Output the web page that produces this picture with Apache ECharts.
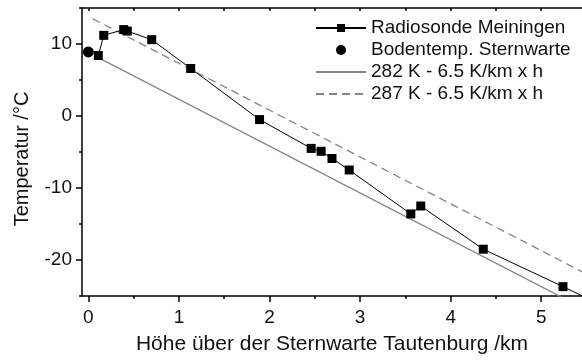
<!DOCTYPE html>
<html>
<head>
<meta charset="utf-8">
<script src="https://cdn.jsdelivr.net/npm/echarts@6/dist/echarts.min.js"></script>
<style>
  html, body { margin: 0; padding: 0; background: #fff; }
  #chart { width: 582px; height: 360px; }
</style>
</head>
<body>
<div id="chart"></div>
<script>
// Radiosonde ascent (Meiningen): height above the observatory in km, temperature in °C
const sondeHeightKm = [0.11, 0.17, 0.39, 0.43, 0.70, 1.13, 1.89, 2.46, 2.57, 2.69, 2.88, 3.56, 3.67, 4.36, 5.24, 5.62];
const sondeTempC    = [8.4, 11.2, 12.0, 11.8, 10.6, 6.6, -0.5, -4.5, -4.9, -5.9, -7.5, -13.6, -12.5, -18.5, -23.7, -26.0];

// Ground temperature at the observatory
const groundHeightKm = [0.0];
const groundTempC    = [8.9];

// Reference lapse-rate lines (6.5 K/km), end points
const lapse282HeightKm = [0.11, 5.6];
const lapse282TempC    = [8.1, -27.6];
const lapse287HeightKm = [0.05, 5.6];
const lapse287TempC    = [13.5, -22.6];

// Axis ticks
const xMajorTicks = [0, 1, 2, 3, 4, 5];
const xMinorTicks = [0.5, 1.5, 2.5, 3.5, 4.5];
const xTopTicks   = [0, 0.5, 1, 1.5, 2, 2.5, 3, 3.5, 4, 4.5, 5];
const yMajorTicks = [-20, -10, 0, 10];
const yMinorTicks = [-25, -15, -5, 5, 15];

const seriesNames = ['Radiosonde Meiningen', 'Bodentemp. Sternwarte', '282 K - 6.5 K/km x h', '287 K - 6.5 K/km x h'];
const xTitle = 'Höhe über der Sternwarte Tautenburg /km';
const yTitle = 'Temperatur /°C';

const pairs = (xs, ys) => xs.map((x, i) => [x, ys[i]]);

const FONT = 'Liberation Sans, Arial, sans-serif';
const X_MIN = -0.07, X_MAX = 5.45, Y_MIN = -25, Y_MAX = 15;

const hiddenLabel = { show: false };
const noSplit = { show: false };

const chart = echarts.init(document.getElementById('chart'), null, { renderer: 'canvas' });

chart.setOption({
  backgroundColor: '#ffffff',
  animation: false,
  textStyle: { fontFamily: FONT },
  grid: { left: 82, right: 0, top: 8, bottom: 63, containLabel: false },
  legend: {
    // plain lines carry no marker in the legend
    data: [
      { name: seriesNames[0] },
      { name: seriesNames[1] },
      { name: seriesNames[2], itemStyle: { opacity: 0 } },
      { name: seriesNames[3], itemStyle: { opacity: 0 } }
    ],
    orient: 'vertical',
    left: 315,
    top: 17,
    padding: 0,
    itemWidth: 50,
    itemHeight: 10,
    itemGap: 0,
    textStyle: { fontFamily: FONT, fontSize: 19, color: '#111', lineHeight: 22 }
  },
  graphic: [
    {
      // vertical axis title, reading bottom to top
      type: 'text', x: 22, y: 159, rotation: Math.PI / 2,
      style: { text: yTitle, fontFamily: FONT, fontSize: 20, fill: '#111', align: 'center', verticalAlign: 'middle' }
    }
  ],
  xAxis: [
    {
      type: 'value', position: 'bottom', min: X_MIN, max: X_MAX,
      name: xTitle,
      nameLocation: 'middle', nameGap: 38,
      nameTextStyle: { fontFamily: FONT, fontSize: 21, color: '#111' },
      axisLine: { show: true, onZero: false, lineStyle: { color: '#000', width: 1.5 } },
      axisTick: { show: true, inside: false, length: 6, customValues: xMajorTicks, lineStyle: { color: '#000', width: 1.5 } },
      axisLabel: { show: true, margin: 12, customValues: xMajorTicks, fontFamily: FONT, fontSize: 19, color: '#111' },
      splitLine: noSplit
    },
    {
      type: 'value', position: 'bottom', min: X_MIN, max: X_MAX,
      axisLine: { show: false, onZero: false },
      axisTick: { show: true, inside: false, length: 3, customValues: xMinorTicks, lineStyle: { color: '#000', width: 1.5 } },
      axisLabel: hiddenLabel, splitLine: noSplit
    },
    {
      type: 'value', position: 'top', min: X_MIN, max: X_MAX,
      axisLine: { show: true, onZero: false, lineStyle: { color: '#000', width: 1.5 } },
      axisTick: { show: true, inside: true, length: 3, customValues: xTopTicks, lineStyle: { color: '#000', width: 1.5 } },
      axisLabel: hiddenLabel, splitLine: noSplit
    }
  ],
  yAxis: [
    {
      type: 'value', position: 'left', min: Y_MIN, max: Y_MAX,
      axisLine: { show: true, onZero: false, lineStyle: { color: '#000', width: 1.5 } },
      axisTick: { show: true, inside: false, length: 6, customValues: yMajorTicks, lineStyle: { color: '#000', width: 1.5 } },
      axisLabel: { show: true, margin: 10, customValues: yMajorTicks, fontFamily: FONT, fontSize: 19, color: '#111' },
      splitLine: noSplit
    },
    {
      type: 'value', position: 'left', min: Y_MIN, max: Y_MAX,
      axisLine: { show: false, onZero: false },
      axisTick: { show: true, inside: false, length: 3, customValues: yMinorTicks, lineStyle: { color: '#000', width: 1.5 } },
      axisLabel: hiddenLabel, splitLine: noSplit
    }
  ],
  series: [
    {
      name: seriesNames[2], type: 'line', xAxisIndex: 0, yAxisIndex: 0,
      data: pairs(lapse282HeightKm, lapse282TempC),
      symbol: 'none', clip: true, z: 2,
      lineStyle: { color: '#858585', width: 1.3 },
      itemStyle: { color: '#858585' }
    },
    {
      name: seriesNames[3], type: 'line', xAxisIndex: 0, yAxisIndex: 0,
      data: pairs(lapse287HeightKm, lapse287TempC),
      symbol: 'none', clip: true, z: 2,
      lineStyle: { color: '#858585', width: 1.3, type: [8, 5] },
      itemStyle: { color: '#858585' }
    },
    {
      name: seriesNames[0], type: 'line', xAxisIndex: 0, yAxisIndex: 0,
      data: pairs(sondeHeightKm, sondeTempC),
      symbol: 'rect', symbolSize: 9, showAllSymbol: true, clip: true, z: 3,
      lineStyle: { color: '#000', width: 1 },
      itemStyle: { color: '#000' }
    },
    {
      name: seriesNames[1], type: 'scatter', xAxisIndex: 0, yAxisIndex: 0,
      data: pairs(groundHeightKm, groundTempC),
      symbol: 'circle', symbolSize: 11, clip: false, z: 4,
      itemStyle: { color: '#000', opacity: 1 }
    }
  ]
});
</script>
</body>
</html>
